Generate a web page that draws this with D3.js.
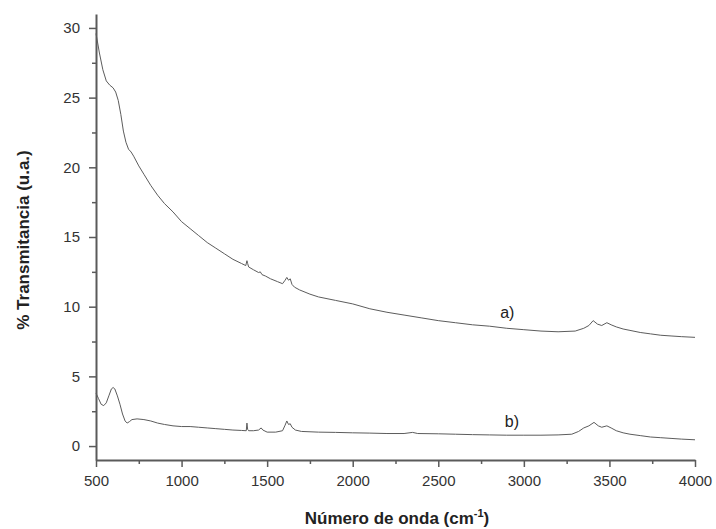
<!DOCTYPE html>
<html>
<head>
<meta charset="utf-8">
<script src="https://cdn.jsdelivr.net/npm/d3@7"></script>
<style>
  body { margin: 0; background: #fff; }
  text { font-family: "Liberation Sans", Arial, sans-serif; }
</style>
</head>
<body>
<div id="chart"></div>
<script>
// wavenumbers and transmittance
var waveA = [500, 520, 540, 560, 580, 600, 615, 630, 645, 660, 675, 690, 705, 720, 750, 780, 820, 860, 900, 950,
  1000, 1050, 1100, 1150, 1200, 1250, 1300, 1350, 1375, 1382, 1386, 1392, 1420, 1450, 1460, 1470, 1490, 1520, 1560, 1590,
  1605, 1615, 1625, 1635, 1645, 1660, 1690, 1750, 1800, 1900, 2000, 2100, 2200, 2300, 2400, 2500, 2600, 2700, 2800, 2900,
  3000, 3100, 3200, 3300, 3350, 3380, 3405, 3430, 3455, 3485, 3510, 3540, 3580, 3620, 3680, 3740, 3800, 3860, 3920, 4000];
var transA = [29.6, 28.2, 27.0, 26.2, 25.9, 25.7, 25.4, 24.8, 23.8, 22.6, 21.8, 21.3, 21.1, 20.8, 20.1, 19.5, 18.7, 18.0, 17.4, 16.8,
  16.1, 15.6, 15.1, 14.6, 14.2, 13.8, 13.4, 13.1, 12.95, 13.3, 13.1, 12.85, 12.65, 12.45, 12.5, 12.3, 12.2, 12.0, 11.8, 11.65,
  11.9, 12.1, 11.9, 12.0, 11.6, 11.4, 11.2, 10.9, 10.7, 10.45, 10.2, 9.85, 9.6, 9.4, 9.2, 9.0, 8.85, 8.7, 8.6, 8.45,
  8.35, 8.25, 8.2, 8.25, 8.45, 8.65, 9.0, 8.75, 8.65, 8.85, 8.7, 8.55, 8.4, 8.3, 8.15, 8.05, 7.95, 7.9, 7.85, 7.8];

var waveB = [500, 515, 530, 545, 560, 575, 590, 600, 610, 625, 640, 655, 670, 682, 695, 710, 740, 780, 820, 860,
  900, 950, 1000, 1050, 1100, 1150, 1200, 1250, 1300, 1350, 1378, 1382, 1386, 1392, 1420, 1450, 1465, 1475, 1500, 1550,
  1590, 1605, 1615, 1625, 1635, 1645, 1665, 1700, 1800, 1900, 2000, 2100, 2200, 2300, 2350, 2380, 2500, 2600, 2700, 2800,
  2900, 3000, 3100, 3200, 3280, 3320, 3350, 3380, 3410, 3435, 3455, 3485, 3510, 3540, 3580, 3620, 3680, 3740, 3800, 3860,
  3920, 4000];
var transB = [3.8, 3.4, 3.0, 2.9, 3.1, 3.6, 4.1, 4.2, 4.1, 3.6, 3.0, 2.3, 1.8, 1.65, 1.75, 1.9, 1.95, 1.9, 1.8, 1.65,
  1.55, 1.45, 1.4, 1.4, 1.35, 1.3, 1.25, 1.2, 1.15, 1.12, 1.1, 1.65, 1.2, 1.1, 1.1, 1.15, 1.3, 1.15, 1.0, 1.0,
  1.1, 1.5, 1.8, 1.55, 1.6, 1.35, 1.15, 1.05, 1.0, 0.98, 0.95, 0.93, 0.9, 0.9, 0.98, 0.9, 0.88, 0.85, 0.82, 0.8,
  0.78, 0.78, 0.78, 0.8, 0.85, 1.05, 1.3, 1.45, 1.7, 1.45, 1.35, 1.45, 1.3, 1.1, 0.95, 0.85, 0.75, 0.65, 0.6, 0.55,
  0.5, 0.45];

var xTicks = [500, 1000, 1500, 2000, 2500, 3000, 3500, 4000];
var xMinor = [750, 1250, 1750, 2250, 2750, 3250, 3750];
var yTicks = [0, 5, 10, 15, 20, 25, 30];
var yMinor = [2.5, 7.5, 12.5, 17.5, 22.5, 27.5];

var W = 716, H = 529;
var svg = d3.select("#chart").append("svg")
  .attr("width", W)
  .attr("height", H);

var x = d3.scaleLinear().domain([500, 4000]).range([96, 695]);
var y = d3.scaleLinear().domain([-1, 31]).range([460, 14]);

var axisColor = "#5a5a5a";
var tickFont = 15;

// minor ticks (no labels)
svg.append("g")
  .attr("transform", "translate(0,460)")
  .call(d3.axisBottom(x).tickValues(xMinor).tickSize(4).tickFormat(""))
  .call(function(g) { g.select(".domain").remove(); })
  .selectAll("line").attr("stroke", axisColor).attr("stroke-width", 1.5);
svg.append("g")
  .attr("transform", "translate(96,0)")
  .call(d3.axisLeft(y).tickValues(yMinor).tickSize(4).tickFormat(""))
  .call(function(g) { g.select(".domain").remove(); })
  .selectAll("line").attr("stroke", axisColor).attr("stroke-width", 1.5);

// X axis
var gx = svg.append("g")
  .attr("transform", "translate(0,460)")
  .call(d3.axisBottom(x).tickValues(xTicks).tickFormat(d3.format("d"))
    .tickSize(7).tickSizeOuter(0).tickPadding(8));
gx.select(".domain").attr("stroke", axisColor).attr("stroke-width", 2);
gx.selectAll("line").attr("stroke", axisColor).attr("stroke-width", 1.5);
gx.selectAll("text").attr("font-size", tickFont).attr("fill", "#333")
  .attr("font-family", "'Liberation Sans', Arial, sans-serif");

// Y axis
var gy = svg.append("g")
  .attr("transform", "translate(96,0)")
  .call(d3.axisLeft(y).tickValues(yTicks).tickFormat(d3.format("d"))
    .tickSize(7).tickSizeOuter(0).tickPadding(9));
gy.select(".domain").attr("stroke", axisColor).attr("stroke-width", 2);
gy.selectAll("line").attr("stroke", axisColor).attr("stroke-width", 1.5);
gy.selectAll("text").attr("font-size", tickFont).attr("fill", "#333")
  .attr("font-family", "'Liberation Sans', Arial, sans-serif");

// Spectra
var line = d3.line()
  .x(function(d) { return x(d[0]); })
  .y(function(d) { return y(d[1]); });

var seriesA = waveA.map(function(w, i) { return [w, transA[i]]; });
var seriesB = waveB.map(function(w, i) { return [w, transB[i]]; });

[seriesA, seriesB].forEach(function(s) {
  svg.append("path")
    .datum(s)
    .attr("fill", "none")
    .attr("stroke", "#5c5c5c")
    .attr("stroke-width", 1)
    .attr("d", line);
});

// curve labels
svg.append("text").attr("x", x(2903)).attr("y", y(9.2))
  .attr("font-size", 16).attr("fill", "#222").attr("text-anchor", "middle").text("a)");
svg.append("text").attr("x", x(2930)).attr("y", y(1.4))
  .attr("font-size", 16).attr("fill", "#222").attr("text-anchor", "middle").text("b)");

// Axis titles
var xt = svg.append("text")
  .attr("x", 397).attr("y", 524)
  .attr("text-anchor", "middle")
  .attr("font-size", 17).attr("font-weight", "bold").attr("fill", "#222");
xt.append("tspan").text("Número de onda (cm");
xt.append("tspan").attr("dy", -7).attr("font-size", 11).text("-1");
xt.append("tspan").attr("dy", 7).text(")");

svg.append("text")
  .attr("transform", "translate(29,240) rotate(-90)")
  .attr("text-anchor", "middle")
  .attr("font-size", 17).attr("font-weight", "bold").attr("fill", "#222")
  .text("% Transmitancia (u.a.)");
</script>
</body>
</html>
